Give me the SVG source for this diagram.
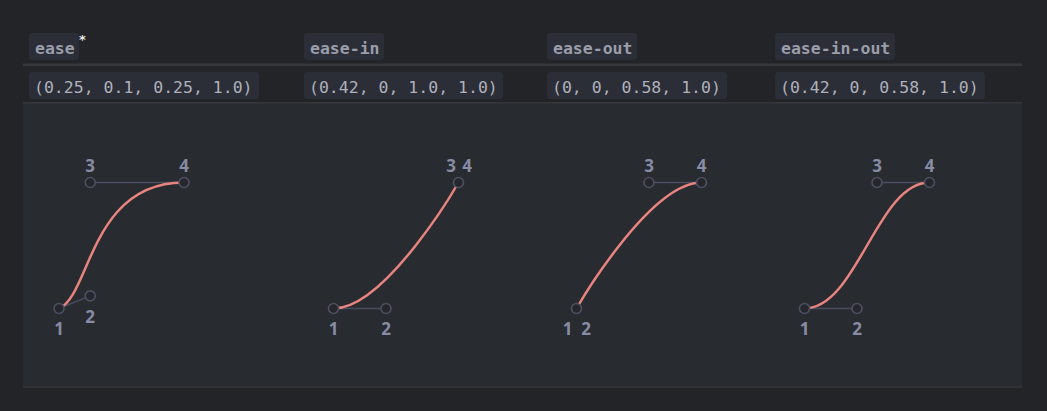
<svg xmlns="http://www.w3.org/2000/svg" width="1047" height="411" viewBox="0 0 1047 411">
<defs>
<style>
.chip{fill:#2b2d37;}
.hdr{font-family:"DejaVu Sans Mono","Liberation Mono",monospace;font-weight:bold;font-size:16.5px;fill:#9a9daa;}
.prm{font-family:"DejaVu Sans Mono","Liberation Mono",monospace;font-size:16.5px;fill:#aeb1bb;}
.ctl{stroke:#4a4d5d;stroke-width:1.5;fill:none;}
.crv{stroke:#e8847f;stroke-width:2.5;fill:none;stroke-linecap:round;}
.pt{fill:#25272c;stroke:#4d5062;stroke-width:1.6;}
.lbl{font-family:"Open Sans","DejaVu Sans",sans-serif;font-weight:bold;font-size:17px;fill:#878ba3;text-anchor:middle;}
</style>
</defs>
<rect x="0" y="0" width="1047" height="411" fill="#232428"/>
<g id="table">
<rect x="23" y="63.5" width="999" height="2.5" fill="#37383d"/>
<rect x="23" y="102.5" width="999" height="285" fill="#282b30"/>
<rect x="23" y="102" width="999" height="1.5" fill="#34363b"/>
<rect x="23" y="386.5" width="999" height="1" fill="#393b40"/>
</g>
<g id="headers">
<g id="h-ease"><rect class="chip" x="29" y="33" width="50" height="27" rx="3"/><text class="hdr" x="35" y="54">ease</text><text x="79" y="44" font-family="DejaVu Sans,sans-serif" font-weight="bold" font-size="13" fill="#e8e8e8">*</text></g>
<g id="h-ease-in"><rect class="chip" x="304" y="33" width="80" height="27" rx="3"/><text class="hdr" x="310" y="54">ease-in</text></g>
<g id="h-ease-out"><rect class="chip" x="547" y="33" width="90" height="27" rx="3"/><text class="hdr" x="553" y="54">ease-out</text></g>
<g id="h-ease-in-out"><rect class="chip" x="775" y="33" width="120" height="27" rx="3"/><text class="hdr" x="781" y="54">ease-in-out</text></g>
</g>
<g id="params">
<g id="p-ease"><rect class="chip" x="29" y="72" width="230" height="27" rx="3"/><text class="prm" x="34" y="93">(0.25, 0.1, 0.25, 1.0)</text></g>
<g id="p-ease-in"><rect class="chip" x="304" y="72" width="199" height="27" rx="3"/><text class="prm" x="309" y="93">(0.42, 0, 1.0, 1.0)</text></g>
<g id="p-ease-out"><rect class="chip" x="547" y="72" width="180" height="27" rx="3"/><text class="prm" x="552" y="93">(0, 0, 0.58, 1.0)</text></g>
<g id="p-ease-in-out"><rect class="chip" x="775" y="72" width="210" height="27" rx="3"/><text class="prm" x="780" y="93">(0.42, 0, 0.58, 1.0)</text></g>
</g>
<g id="connectors">
<line class="ctl" x1="59" y1="308.5" x2="90.25" y2="295.9"/>
<line class="ctl" x1="90.25" y1="182.5" x2="184" y2="182.5"/>
<line class="ctl" x1="333.5" y1="308.5" x2="386" y2="308.5"/>
<line class="ctl" x1="649" y1="182.5" x2="701.5" y2="182.5"/>
<line class="ctl" x1="804.5" y1="308.5" x2="857" y2="308.5"/>
<line class="ctl" x1="877" y1="182.5" x2="929.5" y2="182.5"/>
<path class="crv" d="M59,308.5 C90.25,295.9 90.25,182.5 184,182.5"/>
<path class="crv" d="M333.5,308.5 C386,308.5 458.5,182.5 458.5,182.5"/>
<path class="crv" d="M576.5,308.5 C576.5,308.5 649,182.5 701.5,182.5"/>
<path class="crv" d="M804.5,308.5 C857,308.5 877,182.5 929.5,182.5"/>
</g>
<g id="curve-ease">
<circle class="pt" cx="59" cy="308.5" r="5"/><circle class="pt" cx="90.25" cy="295.9" r="5"/><circle class="pt" cx="90.25" cy="182.5" r="5"/><circle class="pt" cx="184" cy="182.5" r="5"/>
<text class="lbl" x="59" y="335">1</text><text class="lbl" x="90" y="323">2</text><text class="lbl" x="90" y="172">3</text><text class="lbl" x="184" y="172">4</text>
</g>
<g id="curve-ease-in">
<circle class="pt" cx="333.5" cy="308.5" r="5"/><circle class="pt" cx="386" cy="308.5" r="5"/><circle class="pt" cx="458.5" cy="182.5" r="5"/>
<text class="lbl" x="333.5" y="335">1</text><text class="lbl" x="386" y="335">2</text><text class="lbl" x="451" y="172">3</text><text class="lbl" x="467" y="172">4</text>
</g>
<g id="curve-ease-out">
<circle class="pt" cx="576.5" cy="308.5" r="5"/><circle class="pt" cx="649" cy="182.5" r="5"/><circle class="pt" cx="701.5" cy="182.5" r="5"/>
<text class="lbl" x="567.5" y="335">1</text><text class="lbl" x="586" y="335">2</text><text class="lbl" x="649" y="172">3</text><text class="lbl" x="701.5" y="172">4</text>
</g>
<g id="curve-ease-in-out">
<circle class="pt" cx="804.5" cy="308.5" r="5"/><circle class="pt" cx="857" cy="308.5" r="5"/><circle class="pt" cx="877" cy="182.5" r="5"/><circle class="pt" cx="929.5" cy="182.5" r="5"/>
<text class="lbl" x="804.5" y="335">1</text><text class="lbl" x="857" y="335">2</text><text class="lbl" x="877" y="172">3</text><text class="lbl" x="929.5" y="172">4</text>
</g>
</svg>
